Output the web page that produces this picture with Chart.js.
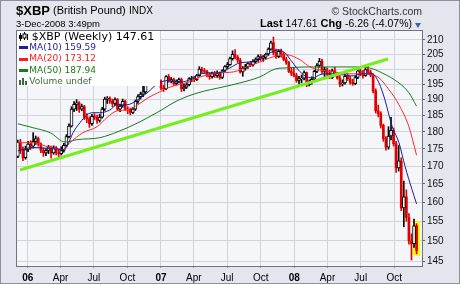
<!DOCTYPE html>
<html>
<head>
<meta charset="utf-8">
<script src="https://cdn.jsdelivr.net/npm/chart.js@4.4.1/dist/chart.umd.min.js"></script>
<style>
    html, body { margin: 0; padding: 0; }
    body { width: 460px; height: 284px; overflow: hidden; position: relative; background: #e3e6ec; font-family: "Liberation Sans", Arial, sans-serif; }
    canvas { position: absolute; left: 0; top: 0; }
    #frame { position: absolute; left: 0; top: 0; width: 458px; height: 282px; border: 1px solid #8b909b; pointer-events: none; }
    .t { position: absolute; white-space: nowrap; line-height: 1; color: #000; }
    .lg { font-family: "DejaVu Sans", Verdana, sans-serif; }
    #legendBox { position: absolute; left: 17px; top: 31px; width: 143px; height: 55px; background: #ffffff; }
    .swatch { position: absolute; left: 19px; width: 9px; height: 3px; }
    #tri { position: absolute; left: 415px; top: 23px; width: 0; height: 0; border-left: 3.5px solid transparent; border-right: 3.5px solid transparent; border-top: 5px solid #3c5ea8; }
</style>
</head>
<body>
<canvas id="chart" width="460" height="284"></canvas>

<div class="t" style="left:16px;top:3.5px;font-size:13px;font-weight:bold;">$XBP</div>
<div class="t" style="left:53px;top:5.2px;font-size:11px;">(British Pound)</div>
<div class="t" style="left:129px;top:6px;font-size:10px;">INDX</div>
<div class="t" style="right:38px;top:5.6px;font-size:10.5px;color:#333;">© StockCharts.com</div>
<div class="t" style="left:16px;top:19.3px;font-size:9.5px;">3-Dec-2008 3:49pm</div>
<div class="t" style="right:48px;top:18px;line-height:11px;font-size:10.5px;"><b style="font-size:11px">Last</b> 147.61 <b style="font-size:11px">Chg</b> -6.26 (-4.07%)</div>
<div id="tri"></div>

<div id="legendBox"></div>
<svg style="position:absolute;left:19px;top:32px" width="10" height="9">
    <rect x="1" y="1" width="1" height="8" fill="#000"/><rect x="0" y="3" width="3" height="4" fill="#000"/>
    <rect x="5" y="0" width="1" height="8" fill="#000"/><rect x="4" y="2" width="3" height="4" fill="#fff" stroke="#000" stroke-width="1"/>
    <rect x="8" y="2" width="1" height="6" fill="#000"/>
</svg>
<div class="t lg" style="left:31.7px;top:30.7px;font-size:11px;">$XBP (Weekly) 147.61</div>
<div class="swatch" style="top:46.3px;background:#1d1d9a;"></div>
<div class="t lg" style="left:29.3px;top:43.1px;font-size:9px;color:#1d1d9a;">MA(10) 159.59</div>
<div class="swatch" style="top:57.5px;background:#ff1a1a;"></div>
<div class="t lg" style="left:29.3px;top:54.4px;font-size:9px;color:#ff1a1a;">MA(20) 173.12</div>
<div class="swatch" style="top:69px;background:#1b7a1b;"></div>
<div class="t lg" style="left:29.3px;top:65.7px;font-size:9px;color:#1b7a1b;">MA(50) 187.94</div>
<svg style="position:absolute;left:19px;top:77px" width="10" height="8">
    <rect x="0" y="3" width="2" height="5" fill="#3a6a3a"/><rect x="3" y="1" width="2" height="7" fill="#3a6a3a"/>
    <rect x="6" y="4" width="2" height="4" fill="#3a6a3a"/>
</svg>
<div class="t lg" style="left:29.3px;top:76.7px;font-size:9px;color:#3a6a3a;">Volume undef</div>
<div id="frame"></div>

<script>
// Weekly bars, index 0 = week of 5-Dec-2005, index 156 = week of 1-Dec-2008
const opens = [
    172.8, 177.0, 174.6, 172.4, 174.8, 176.4, 175.8, 177.2, 178.0, 176.4,
    174.6, 173.8, 174.5, 175.5, 173.8, 175.3, 173.9, 173.6, 174.5, 176.0,
    178.6, 181.8, 187.0, 188.5, 189.0, 187.0, 187.8, 184.5, 184.0, 182.5,
    184.8, 184.5, 183.5, 184.5, 187.0, 190.2, 190.4, 189.5, 188.8, 190.0,
    187.0, 188.0, 189.5, 187.0, 186.8, 186.0, 187.0, 189.5, 191.0, 191.8,
    192.5, 195.5, 196.8, 197.0, 196.2, 195.5, 196.0, 193.8, 193.5, 197.5,
    196.0, 196.5, 195.2, 196.0, 196.5, 193.5, 194.0, 194.8, 196.8, 197.0,
    196.5, 197.8, 200.0, 199.5, 199.2, 198.0, 197.5, 198.5, 197.8, 198.5,
    197.2, 199.5, 200.8, 201.5, 203.5, 205.0, 204.0, 203.0, 199.0, 200.2,
    200.8, 201.8, 201.5, 202.5, 203.2, 204.2, 203.6, 204.0, 205.0, 206.8,
    209.0, 205.5, 204.2, 206.0, 205.0, 203.2, 202.2, 199.2, 198.6, 197.8,
    196.2, 196.8, 197.0, 198.8, 194.8, 195.8, 196.6, 199.2, 201.2, 202.6,
    199.2, 199.8, 198.6, 197.2, 199.4, 198.2, 197.0, 195.0, 195.4, 197.6,
    196.8, 195.6, 195.2, 197.2, 199.4, 198.6, 197.8, 199.8, 199.0, 198.0,
    192.8, 186.5, 185.6, 182.0, 178.0, 175.5, 178.8, 180.5, 176.5, 169.5,
    171.5, 158.5, 161.5, 156.0, 150.0, 149.3, 153.87
];
const highs = [
    177.6, 177.8, 175.6, 175.8, 177.2, 177.4, 179.8, 178.8, 178.5, 176.8,
    175.2, 175.0, 176.0, 175.8, 175.9, 175.7, 175.0, 175.6, 176.6, 179.2,
    182.5, 187.8, 189.4, 190.0, 189.4, 188.6, 188.2, 185.6, 184.6, 185.4,
    185.6, 185.2, 185.4, 187.6, 190.8, 191.0, 190.9, 190.2, 190.6, 190.4,
    188.6, 190.2, 189.9, 187.8, 187.4, 187.6, 189.9, 191.6, 192.4, 194.6,
    196.0, 198.6, 198.4, 197.6, 197.0, 196.8, 196.4, 194.6, 197.8, 198.2,
    197.2, 197.0, 196.4, 197.0, 197.0, 195.0, 195.4, 197.2, 197.6, 197.4,
    198.2, 200.8, 200.6, 200.2, 199.6, 198.8, 199.0, 199.2, 199.4, 199.0,
    199.8, 201.2, 202.2, 204.0, 206.2, 206.6, 204.6, 203.6, 200.8, 201.6,
    202.2, 202.6, 203.2, 203.8, 204.8, 205.0, 204.6, 205.4, 207.2, 209.6,
    211.0, 206.8, 206.6, 206.8, 205.6, 204.0, 202.6, 200.4, 200.6, 198.6,
    197.6, 198.0, 199.4, 199.0, 196.4, 197.4, 199.6, 201.8, 203.6, 203.4,
    200.6, 200.4, 199.6, 200.0, 200.6, 198.8, 197.8, 196.4, 198.2, 198.4,
    197.6, 196.6, 197.6, 199.8, 200.0, 199.6, 201.2, 200.8, 199.6, 198.5,
    193.5, 188.3, 186.2, 182.4, 178.6, 181.6, 184.5, 181.2, 177.2, 176.0,
    172.4, 165.8, 163.4, 157.0, 151.8, 155.6, 154.4
];
const lows = [
    172.4, 173.6, 171.6, 172.0, 174.2, 174.8, 175.2, 176.3, 175.8, 173.9,
    172.8, 173.0, 173.6, 172.3, 173.4, 173.2, 172.6, 173.2, 174.0, 175.6,
    178.2, 181.5, 186.2, 186.6, 186.0, 186.5, 183.8, 182.8, 181.4, 182.0,
    183.8, 182.6, 183.0, 184.2, 186.6, 188.8, 188.8, 187.8, 188.2, 186.6,
    186.2, 187.6, 186.6, 185.6, 185.2, 185.6, 186.6, 188.8, 190.2, 191.0,
    192.0, 194.8, 195.8, 195.4, 194.8, 195.0, 193.2, 192.6, 193.2, 195.6,
    195.4, 194.6, 194.8, 195.4, 192.6, 192.8, 193.6, 194.4, 195.8, 195.8,
    196.2, 197.6, 198.8, 198.6, 197.4, 196.6, 197.0, 197.2, 197.2, 196.6,
    196.8, 199.0, 200.2, 201.2, 203.0, 203.4, 202.2, 198.6, 197.6, 199.6,
    200.2, 200.8, 201.0, 201.8, 202.6, 202.8, 202.6, 203.4, 204.6, 206.4,
    204.8, 203.6, 203.8, 204.0, 202.8, 201.6, 198.8, 197.8, 197.4, 195.6,
    195.0, 195.4, 196.4, 194.2, 194.4, 195.0, 196.2, 198.8, 200.6, 198.4,
    197.4, 197.8, 196.8, 196.8, 197.6, 196.6, 194.2, 194.4, 195.0, 196.2,
    195.0, 194.6, 194.8, 196.8, 197.8, 197.0, 197.6, 198.4, 197.4, 192.2,
    185.8, 184.6, 181.2, 177.2, 174.6, 174.9, 177.6, 175.8, 168.2, 168.6,
    157.8, 153.6, 155.0, 149.2, 145.3, 148.4, 146.8
];
const closes = [
    177.0, 174.6, 172.4, 174.8, 176.4, 175.8, 177.2, 178.0, 176.4, 174.6,
    173.8, 174.5, 175.5, 173.8, 175.3, 173.9, 173.6, 174.5, 176.0, 178.6,
    181.8, 187.0, 188.5, 189.0, 187.0, 187.8, 184.5, 184.0, 182.5, 184.8,
    184.5, 183.5, 184.5, 187.0, 190.2, 190.4, 189.5, 188.8, 190.0, 187.0,
    188.0, 189.5, 187.0, 186.8, 186.0, 187.0, 189.5, 191.0, 191.8, 192.5,
    195.5, 196.8, 197.0, 196.2, 195.5, 196.0, 193.8, 193.5, 197.5, 196.0,
    196.5, 195.2, 196.0, 196.5, 193.5, 194.0, 194.8, 196.8, 197.0, 196.5,
    197.8, 200.0, 199.5, 199.2, 198.0, 197.5, 198.5, 197.8, 198.5, 197.2,
    199.5, 200.8, 201.5, 203.5, 205.0, 204.0, 203.0, 199.0, 200.2, 200.8,
    201.8, 201.5, 202.5, 203.2, 204.2, 203.6, 204.0, 205.0, 206.8, 209.0,
    205.5, 204.2, 206.0, 205.0, 203.2, 202.2, 199.2, 198.6, 197.8, 196.2,
    196.8, 197.0, 198.8, 194.8, 195.8, 196.6, 199.2, 201.2, 202.6, 199.2,
    199.8, 198.6, 197.2, 199.4, 198.2, 197.0, 195.0, 195.4, 197.6, 196.8,
    195.6, 195.2, 197.2, 199.4, 198.6, 197.8, 199.8, 199.0, 198.0, 192.8,
    186.5, 185.6, 182.0, 178.0, 175.5, 178.8, 180.5, 176.5, 169.5, 171.5,
    158.5, 161.5, 156.0, 150.0, 149.3, 153.87, 147.61
];

// moving averages (week position, value)
const ma10Weeks = [0, 5.9, 12.6, 17.3, 19.2, 21.6, 24.3, 27.1, 29.4, 32.1, 36.1, 38.8, 42.7, 47, 50.9, 54.8,
    58.7, 62.7, 66.6, 70.5, 74.4, 78.3, 83, 86.9, 90.8, 94.7, 98.7, 101.8, 104.5, 107.3, 110.4, 113.1,
    115.5, 118.2, 120.2, 122.9, 126.8, 130.7, 134.7, 138.6, 141.3, 143.6, 146.4, 149.1, 151.5, 154.2, 156];
const ma10 = [174.4, 175.4, 175.1, 174.8, 175.7, 179.8, 182.8, 185.3, 185.9, 185.9, 186.8, 188.4, 188.4, 190.0, 192.4, 195.2,
    196.2, 195.6, 196.2, 198.1, 198.7, 198.7, 200.4, 202.1, 202.4, 203.8, 205.5, 206.5, 205.5, 202.4, 199.1, 197.4,
    197.1, 198.1, 198.4, 198.4, 198.1, 197.7, 198.4, 198.4, 195.4, 190.0, 181.8, 176.8, 169.9, 163.5, 159.59];
const ma20Weeks = [0, 5.9, 12.6, 17.7, 20.4, 25.5, 31, 34.9, 38.8, 43.1, 47, 50.9, 54.8, 58.7, 62.7, 66.6, 70.5, 74.4,
    78.3, 84.2, 89.7, 94.7, 99.8, 105.3, 110.4, 114.3, 118.2, 124.1, 129.6, 134.7, 138.6, 141.3, 145.2, 149.1, 153, 156];
const ma20 = [176.8, 176.8, 175.4, 174.8, 176.8, 179.8, 181.6, 184.4, 186.5, 186.8, 188.4, 190.6, 192.2, 193.8, 194.8, 195.6, 197.1, 198.1,
    198.7, 199.0, 200.7, 202.4, 204.1, 204.8, 203.1, 200.7, 199.7, 199.0, 198.4, 198.4, 198.1, 197.1, 193.2, 188.4, 181.6, 173.12];
const ma50Weeks = [0, 5.9, 12.6, 18.5, 23.1, 32.1, 39.2, 47, 54.8, 62.7, 70.5, 80.3, 86.9, 94.7, 100.6, 105.3,
    113.1, 120.2, 130.7, 137.4, 142.5, 149.1, 153, 156];
const ma50 = [182.5, 181.3, 179.8, 177.0, 177.7, 178.3, 180.1, 182.8, 186.1, 189.8, 192.2, 194.1, 195.4, 197.4, 200.0, 200.4,
    200.7, 200.7, 200.7, 200.4, 198.7, 195.4, 192.2, 187.94];

// hand drawn trendline
const trendWeeks = [0.85, 144.8];
const trendValues = [168.9, 203.4];

// axes
const xTickWeeks = [3.86, 16.71, 29.71, 42.86, 56, 68.86, 81.86, 95, 108.14, 121.14, 134.14, 147.29];
const xTickLabels = ['06', 'Apr', 'Jul', 'Oct', '07', 'Apr', 'Jul', 'Oct', '08', 'Apr', 'Jul', 'Oct'];
const yTicks = [145, 150, 155, 160, 165, 170, 175, 180, 185, 190, 195, 200, 205, 210];

const RED = '#e00000';
const isUp = closes.map((c, i) => c >= opens[i]);
const pts = (xs, ys) => xs.map((x, k) => ({ x: x, y: ys[k] }));
const bodies = up => opens
    .map((o, i) => ({ x: i, y: [o, closes[i]], up: isUp[i] }))
    .filter(b => b.up === up);

const plotFrame = {
    id: 'plotFrame',
    beforeDraw(chart) {
        const { ctx, chartArea: a } = chart;
        ctx.save();
        ctx.fillStyle = '#f5f6fa';
        ctx.fillRect(a.left, a.top, a.right - a.left, a.bottom - a.top);
        ctx.restore();
    },
    beforeDatasetsDraw(chart) {
        // yellow highlight behind the latest bar
        const { ctx, scales: { x, y } } = chart;
        const last = closes.length - 1;
        const px = x.getPixelForValue(last);
        const top = y.getPixelForValue(highs[last]);
        const bottom = y.getPixelForValue(lows[last]);
        ctx.save();
        ctx.fillStyle = '#ffff00';
        ctx.fillRect(px - 3.5, top - 2, 7, bottom - top + 4);
        ctx.restore();
    },
    afterDraw(chart) {
        const { ctx, chartArea: a } = chart;
        ctx.save();
        ctx.strokeStyle = '#6f7480';
        ctx.lineWidth = 1;
        ctx.strokeRect(a.left + 0.5, a.top + 0.5, a.right - a.left, a.bottom - a.top);
        ctx.restore();
    }
};

new Chart(document.getElementById('chart'), {
    type: 'bar',
    data: {
        datasets: [
            { type: 'line', data: pts(trendWeeks, trendValues), borderColor: '#76ee1e', borderWidth: 3, pointRadius: 0 },
            { type: 'line', data: pts(ma10Weeks, ma10), borderColor: '#1d1d9a', borderWidth: 1, pointRadius: 0, cubicInterpolationMode: 'monotone' },
            { type: 'line', data: pts(ma20Weeks, ma20), borderColor: '#ff2a2a', borderWidth: 1, pointRadius: 0, cubicInterpolationMode: 'monotone' },
            { type: 'line', data: pts(ma50Weeks, ma50), borderColor: '#1b7a1b', borderWidth: 1, pointRadius: 0, cubicInterpolationMode: 'monotone' },
            {
                // hollow up bodies
                data: bodies(true),
                grouped: false,
                barThickness: 3,
                backgroundColor: '#ffffff',
                borderColor: '#000000',
                borderWidth: 1,
                borderSkipped: false
            },
            {
                // filled down bodies
                data: bodies(false),
                grouped: false,
                barThickness: 2,
                backgroundColor: RED
            },
            {
                data: lows.map((l, i) => ({ x: i, y: [l, highs[i]] })),
                grouped: false,
                barThickness: 1,
                backgroundColor: isUp.map(u => u ? '#000000' : RED)
            }
        ]
    },
    options: {
        responsive: false,
        animation: false,
        devicePixelRatio: 1,
        layout: { padding: { left: 16, top: 30, right: 0, bottom: 0 } },
        plugins: { legend: { display: false }, tooltip: { enabled: false } },
        scales: {
            x: {
                type: 'linear',
                min: -0.72,
                max: 158.12,
                offset: false,
                bounds: 'data',
                afterBuildTicks: s => { s.ticks = xTickWeeks.map(v => ({ value: v })); },
                afterFit: s => { s.height = 18; },
                border: { display: false },
                grid: { color: '#d0d3da', offset: false, tickLength: 2, tickColor: '#9a9ea8' },
                ticks: {
                    autoSkip: false,
                    maxRotation: 0,
                    padding: 4,
                    color: '#000',
                    font: c => ({ family: 'Liberation Sans', size: 10, weight: /^\d/.test(xTickLabels[c.index]) ? 'bold' : 'normal' }),
                    callback: (v, i) => xTickLabels[i]
                }
            },
            y: {
                type: 'logarithmic',
                position: 'right',
                min: 143.84,
                max: 213.5,
                bounds: 'data',
                afterBuildTicks: s => { s.ticks = yTicks.map(v => ({ value: v })); },
                afterFit: s => { s.width = 38; },
                border: { display: false },
                grid: { color: '#d0d3da', tickLength: 3, tickColor: '#666' },
                ticks: {
                    padding: 2,
                    color: '#111',
                    font: { family: 'Liberation Sans', size: 10 },
                    callback: v => String(v)
                }
            }
        }
    },
    plugins: [plotFrame]
});
</script>
</body>
</html>
